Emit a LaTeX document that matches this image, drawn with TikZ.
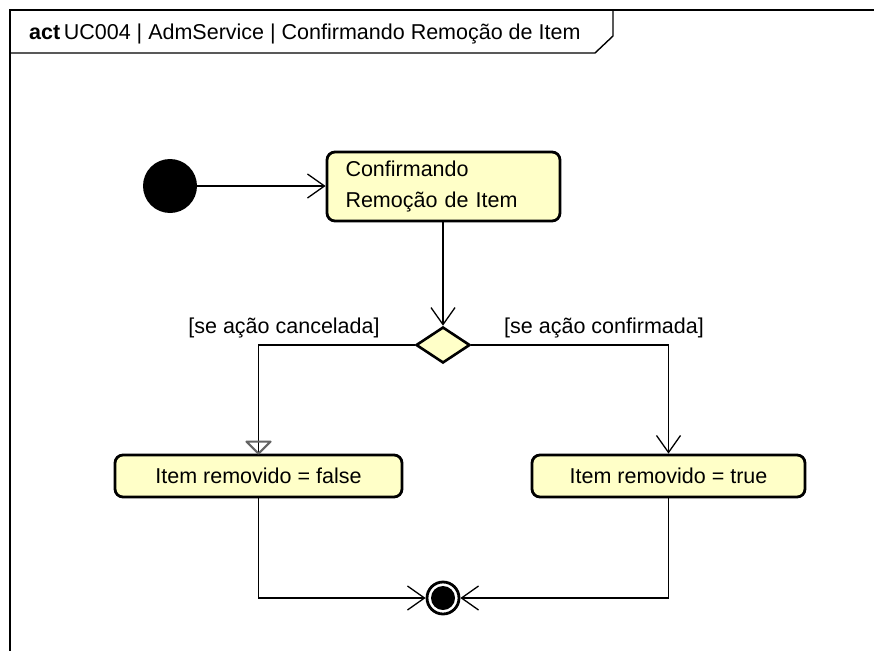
\documentclass[tikz,border=0pt]{standalone}
\usepackage{fontspec}
\setmainfont{Liberation Sans}
\usetikzlibrary{arrows.meta,shapes.geometric}
\definecolor{actfill}{RGB}{255,255,200}
\definecolor{glitch}{RGB}{100,100,100}
\begin{document}
\begin{tikzpicture}[x=1pt,y=-1pt,
  act/.style={draw, line width=2.8pt, fill=actfill, rounded corners=8pt, rectangle, inner sep=0pt, font=\fontsize{21.5}{31}\selectfont},
  flow/.style={line width=1.3pt, -{Straight Barb[length=17pt,width=24pt]}},
  plain/.style={line width=1.3pt},
  lbl/.style={font=\fontsize{21.5}{24}\selectfont, inner sep=0pt}]
\useasboundingbox (0,0) rectangle (874,650);
% frame
\draw[line width=1.6pt] (10,660) -- (10,10) -- (880,10);
\draw[line width=1.4pt] (10,53) -- (595,53) -- (613,36) -- (613,10);
\node[anchor=base west, inner sep=0pt, font=\fontsize{21.5}{24}\selectfont] (title) at (29,40) {\textbf{act}\,UC004 | AdmService | Confirmando Remoção de Item};
% nodes
\node[circle, fill=black, minimum size=54pt, inner sep=0pt] (init) at (170,186) {};
\node[act, minimum width=233pt, minimum height=69pt, text width=196pt, align=left] (a1) at (443.5,186.5) {\raisebox{-3pt}{Confirmando}\\\raisebox{-3pt}{Remoção de Item}};
\node[diamond, draw, line width=2.6pt, fill=actfill, minimum width=54pt, minimum height=36pt, inner sep=0pt] (dec) at (443,345) {};
\node[act, minimum width=287pt, minimum height=42pt] (f) at (258.5,476) {Item removido = false};
\node[act, minimum width=273pt, minimum height=42pt] (t) at (668.5,476) {Item removido = true};
\node[circle, draw, line width=2.8pt, minimum size=32pt, inner sep=0pt] (fin) at (443,598) {};
\fill (fin) circle (12pt);
% labels
\node[lbl, anchor=base] (lc) at (284,333) {[se ação cancelada]};
\node[lbl, anchor=base] (lr) at (604,333) {[se ação confirmada]};
% connectors
\draw[flow] (init.east) -- (init.east -| a1.west);
\draw[flow] (dec.north |- a1.south) -- (dec.north);
\draw[plain] (dec.west) -| (f.north);
\draw[glitch, line width=2.2pt, line join=round] (f.north) ++(-12,-12) -- ++(24,0) -- (f.north) -- cycle;
\draw[flow] (dec.east) -| (t.north);
\draw[flow] (f.south) |- (fin.west);
\draw[flow] (t.south) |- (fin.east);
\end{tikzpicture}
\end{document}
